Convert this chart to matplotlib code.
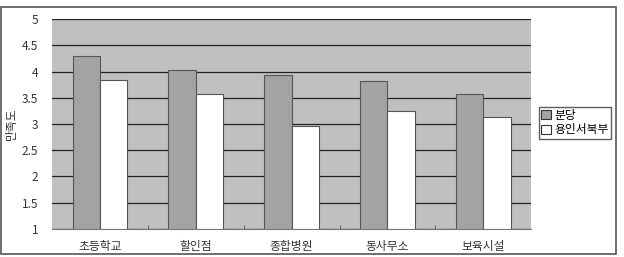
import matplotlib.pyplot as plt
import numpy as np
from matplotlib.patches import Patch, Rectangle

plt.rcParams['font.family'] = ['Noto Sans CJK KR', 'DejaVu Sans']

categories = ['초등학교', '할인점', '종합병원', '동사무소', '보육시설']
bundang = [4.29, 4.03, 3.93, 3.81, 3.58]
yongin_nw = [3.83, 3.58, 2.96, 3.25, 3.13]
series_names = ['분당', '용인서북부']
yticks = [1, 1.5, 2, 2.5, 3, 3.5, 4, 4.5, 5]

fig = plt.figure(figsize=(6.24, 2.57), dpi=100)
fig.patches.append(Rectangle((0.002, 0.012), 0.985, 0.96, transform=fig.transFigure,
                             fill=False, edgecolor='#555555', linewidth=1.2))

ax = fig.add_axes([0.0833, 0.109, 0.768, 0.817])
ax.set_facecolor('#C0C0C0')

x = np.arange(len(categories))
w = 0.285
ax.bar(x - w / 2, [v - 1 for v in bundang], w, bottom=1, color='#A3A3A3',
       edgecolor='#555555', linewidth=0.8, zorder=3)
ax.bar(x + w / 2, [v - 1 for v in yongin_nw], w, bottom=1, color='white',
       edgecolor='#555555', linewidth=0.8, zorder=3)

ax.set_xlim(-0.5, len(categories) - 0.5)
ax.set_ylim(1, 5)
ax.set_yticks(yticks)
ax.set_yticklabels([f'{t:g}' for t in yticks], fontsize=8.5, color='#333333')
ax.yaxis.grid(True, color='#222222', linewidth=0.9, zorder=1)
ax.set_axisbelow(True)
ax.tick_params(axis='y', length=0, pad=10)

ax.set_xticks(x)
ax.set_xticklabels(categories, fontsize=8.5, color='#333333')
ax.set_xticks(np.arange(0.5, len(categories) - 0.5), minor=True)
ax.tick_params(axis='x', which='major', length=0, pad=8)
ax.tick_params(axis='x', which='minor', length=3, direction='in', color='#555555')

for side in ['top', 'right', 'left']:
    ax.spines[side].set_visible(False)
ax.spines['bottom'].set_color('#777777')

ax.set_ylabel('만족도', fontsize=8.5, color='#333333')
ax.yaxis.set_label_coords(-0.07, 0.5)

handles = [Patch(facecolor='#A3A3A3', edgecolor='#333333', linewidth=0.8),
           Patch(facecolor='white', edgecolor='#333333', linewidth=0.8)]
fig.legend(handles, series_names, loc='upper left', bbox_to_anchor=(0.864, 0.585),
           fontsize=8.5, frameon=True, fancybox=False, edgecolor='#333333',
           handlelength=0.8, handleheight=0.8, handletextpad=0.3,
           borderpad=0.2, labelspacing=0.1, borderaxespad=0)

fig.savefig('out.png', dpi=100)
